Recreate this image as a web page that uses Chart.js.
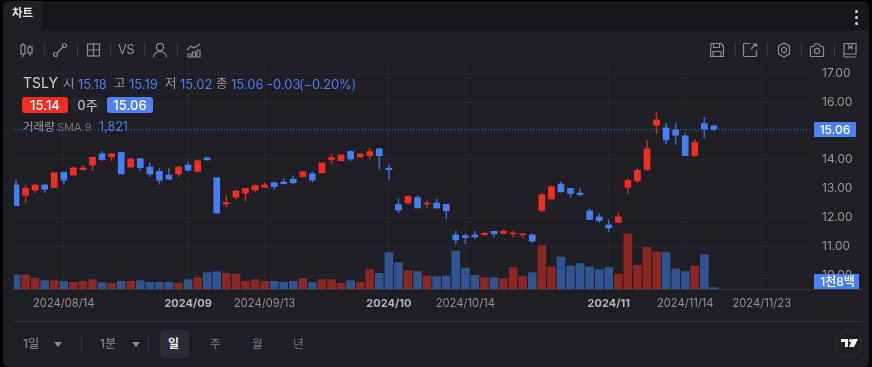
<!DOCTYPE html>
<html lang="ko">
<head>
<meta charset="utf-8">
<title>TSLY 차트</title>
<script src="https://cdn.jsdelivr.net/npm/chart.js@4"></script>
<style>
  html, body { margin: 0; padding: 0; background: #000; }
  body { width: 872px; height: 367px; overflow: hidden; position: relative; font-family: Inter, "Noto Sans CJK KR", sans-serif; }
  #panel { position: absolute; left: 3px; top: 1px; width: 866px; height: 366px; background: #1e1e24; border-radius: 6px; overflow: hidden; }
  #head { position: absolute; left: 3px; top: 1px; width: 866px; height: 29px; background: #17171b; border-radius: 6px 6px 0 0; overflow: hidden; }
  #tab { position: absolute; left: 0; top: 0; width: 39px; height: 29px; background: #1e1e24; }
  canvas { position: absolute; left: 0; top: 0; }
  .t { position: absolute; white-space: nowrap; line-height: 16px; }
  .blue { color: #4a7de8; }
  .grey { color: #9c9ca1; }
  .badge { position: absolute; top: 97px; height: 16px; line-height: 16px; border-radius: 3px; text-align: center; font-size: 13px; font-weight: 500; color: #fff; }
  .sep { position: absolute; width: 1px; background: #36363c; }
  .ic { position: absolute; top: 42px; }
  .ic * { fill: none; stroke: #8b8b91; stroke-width: 1.2; }
  .dot { position: absolute; left: 855px; width: 3px; height: 3px; border-radius: 2px; background: #d6d6d8; }
  .tri { position: absolute; top: 342px; width: 0; height: 0; border-left: 4px solid transparent; border-right: 4px solid transparent; border-top: 5px solid #8b8b91; }
  .line { position: absolute; left: 14px; width: 849px; height: 1px; background: #313136; }
</style>
</head>
<body>
<div id="panel"></div>
<div id="head"><div id="tab"></div></div>
<canvas id="chart" width="872" height="312"></canvas>

<div class="t" style="left:12px;top:5px;font-size:11.5px;font-weight:700;color:#e4e4e6">차트</div>
<div class="dot" style="top:10px"></div><div class="dot" style="top:16px"></div><div class="dot" style="top:22px"></div>

<!-- toolbar -->
<svg class="ic" style="left:19px" width="16" height="16"><rect x="2" y="3" width="4" height="9"/><path d="M4 1v2M4 12v3M11 3v2M11 11v3"/><rect x="9" y="5" width="4" height="6"/></svg>
<div class="sep" style="left:44px;top:42px;height:15px"></div>
<svg class="ic" style="left:52px" width="16" height="16"><circle cx="3.5" cy="12.5" r="2"/><circle cx="12.5" cy="3.5" r="2"/><path d="M5 11 11 5"/></svg>
<div class="sep" style="left:77px;top:42px;height:15px"></div>
<svg class="ic" style="left:86px" width="16" height="16"><rect x="1.5" y="2" width="12" height="12"/><path d="M7.5 2v12M1.5 8h12"/></svg>
<div class="sep" style="left:110px;top:42px;height:15px"></div>
<div class="t" style="left:118px;top:42px;font-size:12.5px;color:#8f8f95">VS</div>
<div class="sep" style="left:144px;top:42px;height:15px"></div>
<svg class="ic" style="left:152px" width="16" height="16"><circle cx="8" cy="5" r="3.6"/><path d="M1.5 15c1-4 3.500-5.500 6.500-5.500s5.500 1.500 6.500 5.500"/></svg>
<div class="sep" style="left:177px;top:42px;height:15px"></div>
<svg class="ic" style="left:186px" width="16" height="16"><path d="M1 8 5 4l3 2 6-4M2 15v-3h3v3zM6.500 15v-5h3v5zM11 15V8h3v7z"/></svg>

<svg class="ic" style="left:709px" width="16" height="16"><path d="M2 1.500h10l2.500 2.500v10.500h-13zM4.500 1.500v4h6v-4M4 14.500V9.500h8v5"/></svg>
<div class="sep" style="left:735px;top:42px;height:15px"></div>
<svg class="ic" style="left:742px" width="16" height="16"><path d="M8 1.500H2.500a1 1 0 0 0-1 1v11a1 1 0 0 0 1 1h11a1 1 0 0 0 1-1V8M9 7l5-5M10.500 2H14.500V5"/></svg>
<div class="sep" style="left:767px;top:42px;height:15px"></div>
<svg class="ic" style="left:776px" width="16" height="16"><path d="M8 1l5.500 3.200v7.600L8 15l-5.500-3.200V4.200z"/><circle cx="8" cy="8" r="2.500"/></svg>
<div class="sep" style="left:801px;top:42px;height:15px"></div>
<svg class="ic" style="left:809px" width="16" height="16"><path d="M1.500 5.500a1 1 0 0 1 1-1h2l1.500-2.500h4l1.500 2.500h2a1 1 0 0 1 1 1v8a1 1 0 0 1-1 1h-11a1 1 0 0 1-1-1z"/><circle cx="8" cy="9" r="2.600"/></svg>
<div class="sep" style="left:834px;top:42px;height:15px"></div>
<svg class="ic" style="left:842px" width="16" height="16"><path d="M2 12V2.500a1 1 0 0 1 1-1h11V12H3a1.500 1.500 0 0 0 0 3h11M7 1.500v5l1.500-1.500L10 6.500v-5"/></svg>

<!-- legend -->
<div class="t" style="left:23px;top:75px;font-size:14px;font-weight:400;color:#cfcfd2">TSLY</div>
<div class="t grey" style="left:63px;top:76px;font-size:12.500px">시</div><div class="t blue" style="left:78px;top:76px;font-size:13px">15.18</div>
<div class="t grey" style="left:114px;top:76px;font-size:12.500px">고</div><div class="t blue" style="left:129px;top:76px;font-size:13px">15.19</div>
<div class="t grey" style="left:165px;top:76px;font-size:12.500px">저</div><div class="t blue" style="left:180px;top:76px;font-size:13px">15.02</div>
<div class="t grey" style="left:216px;top:76px;font-size:12.500px">종</div><div class="t blue" style="left:231px;top:76px;font-size:13px">15.06</div>
<div class="t blue" style="left:267px;top:76px;font-size:13px">-0.03</div>
<div class="t blue" style="left:299px;top:76px;font-size:13px;letter-spacing:-.2px">(−0.20%)</div>
<div class="badge" style="left:22px;width:46px;background:#f42d20">15.14</div>
<div class="badge" style="left:72px;width:31px;background:#20232a;color:#b4b4b8">0주</div>
<div class="badge" style="left:107px;width:46px;background:#4f80f6">15.06</div>
<div class="t" style="left:23px;top:119px;font-size:11.500px;color:#9c9ca1">거래량</div>
<div class="t" style="left:57px;top:119px;font-size:11px;color:#6f6f75">SMA 9</div>
<div class="t blue" style="left:99px;top:119px;font-size:12.500px">1,821</div>

<!-- bottom bar -->
<div class="line" style="top:289px"></div>
<div class="line" style="top:321px"></div>
<div class="t" style="left:23px;top:336px;font-size:12px;color:#8f8f95">1일</div><div class="tri" style="left:54px"></div>
<div class="sep" style="left:81px;top:337px;height:14px"></div>
<div class="t" style="left:100px;top:336px;font-size:12px;color:#8f8f95">1분</div><div class="tri" style="left:132px"></div>
<div class="sep" style="left:148px;top:337px;height:14px"></div>
<div style="position:absolute;left:160px;top:330px;width:29px;height:28px;border-radius:4px;background:#2a2b33"></div>
<div class="t" style="left:168px;top:336px;font-size:12px;font-weight:700;color:#f2f2f4">일</div>
<div class="t" style="left:210px;top:336px;font-size:11.500px;color:#77777d">주</div>
<div class="t" style="left:252px;top:336px;font-size:11.500px;color:#77777d">월</div>
<div class="t" style="left:293px;top:336px;font-size:11.500px;color:#77777d">년</div>
<svg style="position:absolute;left:835px;top:330px" width="28" height="28"><circle cx="14" cy="14" r="13" fill="none" stroke="#2c2c31"/><path d="M6 9h7v8h-3v-5H6zM14 17l3.500-8H23l-4 8z" fill="#f2f2f4"/><circle cx="15.500" cy="10.500" r="1.500" fill="#f2f2f4"/></svg>

<script>
// price values, one entry per trading day
const opens = [13.13,12.77,12.95,13.13,13.04,13.57,13.47,13.66,13.82,14.21,14.10,14.26,13.75,14.04,13.75,13.60,13.47,13.51,13.82,13.60,14.07,13.38,12.46,12.70,12.85,12.95,13.05,13.20,13.23,13.33,13.42,13.51,13.55,14.01,13.97,14.29,14.10,14.14,14.38,13.71,12.45,12.51,12.69,12.47,12.50,12.45,11.39,11.37,11.39,11.40,11.52,11.45,11.43,11.40,11.39,12.24,12.64,13.16,13.01,12.85,12.23,12.02,11.74,11.83,13.05,13.27,13.67,15.20,15.11,15.04,14.83,14.15,15.26,15.18];
const highs = [13.30,13.11,13.13,13.13,13.55,13.57,13.74,13.79,14.09,14.30,14.23,14.26,14.07,14.04,13.89,13.70,13.70,13.75,13.92,14.00,14.10,13.38,12.75,12.92,13.01,13.13,13.20,13.23,13.36,13.44,13.61,13.58,13.89,14.20,14.17,14.31,14.21,14.41,14.41,13.82,12.64,12.76,12.75,12.57,12.64,12.46,11.53,11.43,11.52,11.49,11.52,11.57,11.53,11.43,11.43,12.85,13.09,13.23,13.01,12.99,12.30,12.12,11.91,12.15,13.35,13.70,14.67,15.65,15.27,15.29,14.90,14.71,15.48,15.19];
const lows = [12.41,12.51,12.86,12.86,13.04,13.16,13.47,13.65,13.63,13.97,13.97,13.51,13.75,13.63,13.42,13.16,13.31,13.42,13.61,13.60,13.99,12.15,12.35,12.64,12.57,12.89,13.04,12.98,13.17,13.16,13.41,13.23,13.55,13.86,13.97,13.97,14.08,14.03,13.68,13.33,12.17,12.45,12.33,12.33,12.30,11.95,11.09,11.09,11.27,11.37,11.32,11.43,11.32,11.29,11.13,12.19,12.64,12.89,12.70,12.75,11.93,11.82,11.51,11.83,12.83,13.21,13.64,14.91,14.55,14.54,14.15,14.11,14.77,15.02];
const closes = [12.41,13.01,13.13,12.98,13.55,13.29,13.72,13.72,14.09,14.01,14.21,13.51,14.03,13.73,13.51,13.29,13.33,13.75,13.64,13.97,14.00,12.15,12.52,12.92,13.01,13.11,13.13,13.07,13.17,13.20,13.58,13.30,13.89,14.08,14.17,14.03,14.21,14.29,14.14,13.66,12.26,12.73,12.33,12.50,12.33,12.23,11.22,11.30,11.32,11.45,11.43,11.52,11.46,11.43,11.18,12.79,13.07,12.89,12.83,12.79,11.93,11.89,11.64,12.02,13.29,13.64,14.38,15.39,14.69,14.85,14.15,14.60,15.07,15.06];
const volumes = [19600,19600,15400,11700,11700,10700,9300,10700,13100,8900,7900,10700,10700,11700,9300,9300,9300,7900,13100,15900,22900,24300,21900,21000,10700,13100,10700,10700,9300,10700,14500,9300,13100,13100,7900,11700,9300,27100,21900,50900,36900,25700,24300,18200,17300,18200,53200,29400,19100,15900,15900,14500,29900,17300,22900,60700,30800,44800,32200,35500,30800,27100,29900,21000,77500,33200,58400,52300,50900,28000,24300,32200,48100,1821];

const tickIndexes = [5, 18, 26, 39, 47, 62, 70, 78];
const tickLabels = ['2024/08/14', '2024/09', '2024/09/13', '2024/10', '2024/10/14', '2024/11', '2024/11/14', '2024/11/23'];
const priceTicks = [10, 11, 12, 13, 14, 15, 16, 17];
const lastClose = 15.06;
const lastVolume = 1821;
const lastVolumeLabel = '1천8백';

const UP = '#f22d22', DOWN = '#437ef5';
const UP_VOL = '#8b2725', DOWN_VOL = '#31538f';
const days = opens.map((_, i) => i);
const isUp = i => closes[i] >= opens[i];
const FONT = 'Inter, "Noto Sans CJK KR", sans-serif';

// month labels are the bold ones
const isMonthTick = c => !!c.tick && tickLabels[tickIndexes.indexOf(c.tick.value)].length === 7;

// last price line and the two tags on the right axis
const tagsPlugin = {
  id: 'tags',
  afterDraw(chart) {
    const { ctx, chartArea, scales } = chart;
    const y = Math.round(scales.y.getPixelForValue(lastClose)) + 0.5;
    ctx.save();
    ctx.strokeStyle = 'rgba(74,128,248,.75)';
    ctx.setLineDash([1, 2]);
    ctx.beginPath();
    ctx.moveTo(chartArea.left, y);
    ctx.lineTo(chartArea.right, y);
    ctx.stroke();
    ctx.setLineDash([]);
    ctx.textAlign = 'center';
    ctx.textBaseline = 'middle';
    ctx.fillStyle = '#4a80f8';
    ctx.fillRect(814, y - 7.5, 42, 15);
    ctx.fillStyle = '#fff';
    ctx.font = '500 12px ' + FONT;
    ctx.fillText(lastClose.toFixed(2), 835, y + 0.5);
    // the volume tag stays on the bottom edge
    const vy = Math.min(scales.y1.getPixelForValue(lastVolume), chartArea.bottom - 7.5);
    ctx.fillStyle = '#4a80f8';
    ctx.fillRect(814, vy - 7.5, 45, 15);
    ctx.fillStyle = '#fff';
    ctx.font = '500 12px ' + FONT;
    ctx.fillText(lastVolumeLabel, 837.500, vy + 0.5);
    ctx.restore();
  }
};

new Chart(document.getElementById('chart').getContext('2d'), {
  type: 'bar',
  plugins: [tagsPlugin],
  data: {
    datasets: [
      {
        label: '거래량',
        yAxisID: 'y1',
        order: 3,
        barThickness: 8,
        data: days.map(i => ({ x: i, y: volumes[i] })),
        backgroundColor: days.map(i => isUp(i) ? UP_VOL : DOWN_VOL)
      },
      {
        label: 'wick',
        yAxisID: 'y',
        order: 2,
        barThickness: 1,
        data: days.map(i => ({ x: i, y: [lows[i], highs[i]] })),
        backgroundColor: days.map(i => isUp(i) ? 'rgba(242,45,34,.75)' : 'rgba(67,126,245,.75)')
      },
      {
        label: 'TSLY',
        yAxisID: 'y',
        order: 1,
        barThickness: 6,
        data: days.map(i => ({ x: i, y: [opens[i], closes[i]] })),
        backgroundColor: days.map(i => isUp(i) ? UP : DOWN)
      }
    ]
  },
  options: {
    responsive: false,
    animation: false,
    events: [],
    grouped: false,
    layout: { padding: { left: 14, top: 66, right: 0, bottom: 0 } },
    plugins: { legend: { display: false }, tooltip: { enabled: false } },
    scales: {
      x: {
        type: 'linear',
        offset: false,
        min: -0.21,
        max: 83.26,
        afterBuildTicks: axis => { axis.ticks = tickIndexes.map(v => ({ value: v })); },
        afterFit: axis => { axis.height = 23; },
        border: { display: false, dash: [1, 3] },
        grid: { offset: false, color: 'rgba(255,255,255,.11)', drawTicks: false, tickLength: 0 },
        ticks: {
          autoSkip: false,
          maxRotation: 0,
          padding: 8,
          callback: v => tickLabels[tickIndexes.indexOf(v)],
          font: c => ({ family: FONT, size: isMonthTick(c) ? 11 : 11.2, weight: isMonthTick(c) ? '700' : '400' }),
          color: c => isMonthTick(c) ? '#b5b5b9' : '#8f8f94'
        }
      },
      y: {
        position: 'right',
        min: 9.514,
        max: 17.26,
        afterBuildTicks: axis => { axis.ticks = priceTicks.map(v => ({ value: v })); },
        afterFit: axis => { axis.width = 60; },
        border: { display: false, dash: [1, 3] },
        grid: { color: 'rgba(255,255,255,.11)', drawTicks: false, tickLength: 0 },
        ticks: {
          padding: 10,
          font: { family: FONT, size: 12 },
          color: '#96969b',
          callback: v => v.toFixed(2)
        }
      },
      y1: {
        display: false,
        min: 0,
        max: 312200
      }
    }
  }
});
</script>
</body>
</html>
